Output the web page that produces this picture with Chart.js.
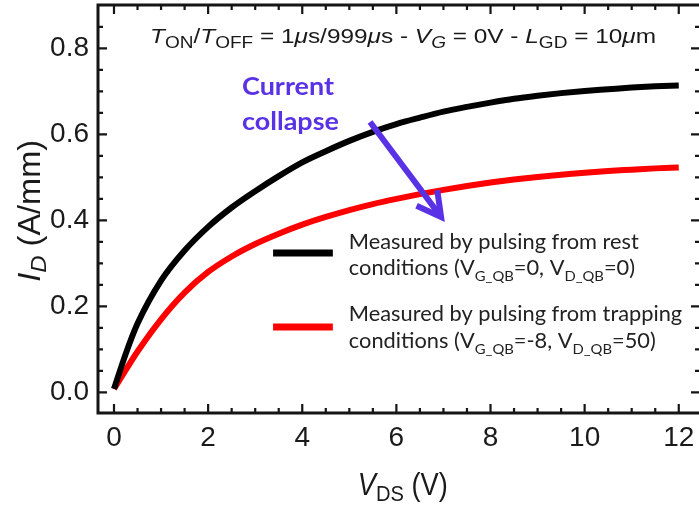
<!DOCTYPE html>
<html>
<head>
<meta charset="utf-8">
<script src="https://cdn.jsdelivr.net/npm/chart.js@4/dist/chart.umd.min.js"></script>
<style>
  html, body { margin: 0; padding: 0; background: #fff; }
  #wrap { width: 699px; height: 507px; position: relative; }
</style>
</head>
<body>
<div id="wrap"><canvas id="iv-chart" width="699" height="507"></canvas></div>
<script>
// V_DS sweep points (V)
const vds = [0, 0.25, 0.5, 1, 1.5, 2, 2.5, 3, 3.5, 4, 4.5, 5, 5.5, 6, 6.5, 7, 7.5, 8, 8.5, 9, 9.5, 10, 10.5, 11, 11.5, 12];
// I_D (A/mm) pulsed from rest conditions
const idRest = [0.008, 0.09, 0.16, 0.26, 0.33, 0.385, 0.43, 0.468, 0.503, 0.535, 0.561, 0.585, 0.606, 0.624, 0.639, 0.653, 0.664, 0.674, 0.683, 0.690, 0.696, 0.701, 0.705, 0.709, 0.712, 0.714];
// I_D (A/mm) pulsed from trapping conditions
const idTrap = [0.008, 0.052, 0.095, 0.17, 0.232, 0.28, 0.316, 0.345, 0.369, 0.39, 0.408, 0.424, 0.438, 0.45, 0.461, 0.471, 0.48, 0.488, 0.495, 0.501, 0.506, 0.511, 0.515, 0.518, 0.521, 0.523];
const xTicks = [0, 2, 4, 6, 8, 10, 12];
const yTicks = [0.0, 0.2, 0.4, 0.6, 0.8];

const PURPLE = '#5a32e6';
const INK = '#1a1a1a';
const SANS = '"Liberation Sans", Arial, sans-serif';
const CAL = 'Lato, "Open Sans", sans-serif';

// annotation anchors, in data units
const notes = {
  title: { x: 0.765, y: 0.813 },
  current: { x: 2.72, y: 0.692 },
  collapse: { x: 2.72, y: 0.610 },
  arrowFrom: { x: 5.44, y: 0.629 },
  arrowTo: { x: 6.95, y: 0.408 },
  legSample: { x1: 3.38, x2: 4.65 },
  legRest: { y: 0.324, l1: 0.334, l2: 0.273 },
  legTrap: { y: 0.152, l1: 0.166, l2: 0.103 },
  legText: { x: 4.99 },
  xTitle: { x: 5.18 },
  yTitle: { y: 0.257 }
};

// draw a run of text pieces (italic / bold / subscript), optionally squeezed to a width
function drawRich(ctx, segs, x, y, o) {
  const font = (s) => (s.i ? 'italic ' : '') + (o.bold ? 'bold ' : '') +
    (s.sub ? o.size * (o.subScale || 0.72) : o.size) + 'px ' + o.family;
  let total = 0;
  segs.forEach(s => { ctx.font = font(s); s.w = ctx.measureText(s.t).width; total += s.w; });
  const sx = o.sx || (o.fit ? o.fit / total : 1);
  ctx.save();
  ctx.translate(x, y);
  if (o.rot) ctx.rotate(o.rot);
  ctx.scale(sx, 1);
  ctx.fillStyle = o.color || INK;
  ctx.textBaseline = 'alphabetic';
  ctx.textAlign = 'left';
  let cx = 0;
  segs.forEach(s => {
    ctx.font = font(s);
    ctx.fillText(s.t, cx, s.sub ? o.size * (o.subDrop || 0.25) : 0);
    cx += s.w;
  });
  ctx.restore();
  return sx;
}

const overlay = {
  id: 'overlay',
  afterDraw(chart) {
    const { ctx, chartArea: a } = chart;
    const xs = chart.scales.x, ys = chart.scales.y;
    const px = v => xs.getPixelForValue(v), py = v => ys.getPixelForValue(v);
    ctx.save();

    // frame
    ctx.strokeStyle = '#151515';
    ctx.lineWidth = 3;
    ctx.beginPath();
    ctx.moveTo(a.right + 2, a.top);
    ctx.lineTo(a.left, a.top);
    ctx.lineTo(a.left, a.bottom);
    ctx.lineTo(a.right + 2, a.bottom);
    ctx.stroke();

    // inward ticks, major + minor
    ctx.lineWidth = 2.2;
    ctx.beginPath();
    for (let k = 0; k <= 24; k++) {
      const v = k * 0.5, X = px(v);
      if (X > a.right) break;
      const len = k % 4 === 0 ? 9 : 5;
      ctx.moveTo(X, a.bottom); ctx.lineTo(X, a.bottom - len);
      ctx.moveTo(X, a.top); ctx.lineTo(X, a.top + len);
    }
    for (let k = 0; k <= 17; k++) {
      const v = k * 0.05, Y = py(v);
      if (Y < a.top) break;
      const len = k % 4 === 0 ? 9 : 5;
      ctx.moveTo(a.left, Y); ctx.lineTo(a.left + len, Y);
      ctx.moveTo(a.right + 1, Y); ctx.lineTo(a.right + 1 - len, Y);
    }
    ctx.stroke();

    // header line
    drawRich(ctx, [
      { t: 'T', i: 1 }, { t: 'ON', sub: 1 }, { t: '/' }, { t: 'T', i: 1 }, { t: 'OFF', sub: 1 },
      { t: ' = 1' }, { t: 'μ', i: 1 }, { t: 's/999' }, { t: 'μ', i: 1 }, { t: 's - ' },
      { t: 'V', i: 1 }, { t: 'G', i: 1, sub: 1 }, { t: ' = 0V - ' }, { t: 'L', i: 1 }, { t: 'GD', sub: 1 },
      { t: ' = 10' }, { t: 'μ', i: 1 }, { t: 'm' }
    ], px(notes.title.x), py(notes.title.y), { size: 20, family: SANS, fit: 506, subScale: 0.78, subDrop: 0.28 });

    // axis titles
    drawRich(ctx, [{ t: 'V', i: 1 }, { t: 'DS', sub: 1 }, { t: ' (V)' }],
      px(notes.xTitle.x), a.bottom + 82, { size: 31, family: SANS, fit: 90, subScale: 0.74, subDrop: 0.18 });
    drawRich(ctx, [{ t: 'I', i: 1 }, { t: 'D', i: 1, sub: 1 }, { t: ' (A/mm)' }],
      a.left - 58, py(notes.yTitle.y), { size: 31, family: SANS, fit: 142, rot: -Math.PI / 2, subScale: 0.74, subDrop: 0.18 });

    // "Current collapse" note
    const sxC = drawRich(ctx, [{ t: 'Current' }], px(notes.current.x), py(notes.current.y),
      { size: 24, family: CAL, bold: true, color: PURPLE, fit: 92 });
    drawRich(ctx, [{ t: 'collapse' }], px(notes.collapse.x), py(notes.collapse.y),
      { size: 24, family: CAL, bold: true, color: PURPLE, sx: sxC });

    // arrow
    const x0 = px(notes.arrowFrom.x), y0 = py(notes.arrowFrom.y);
    const x1 = px(notes.arrowTo.x), y1 = py(notes.arrowTo.y);
    const ang = Math.atan2(y1 - y0, x1 - x0);
    ctx.strokeStyle = PURPLE;
    ctx.lineWidth = 6;
    ctx.lineCap = 'butt';
    ctx.lineJoin = 'miter';
    ctx.beginPath();
    ctx.moveTo(x0, y0); ctx.lineTo(x1 - 3 * Math.cos(ang), y1 - 3 * Math.sin(ang));
    ctx.stroke();
    ctx.beginPath();
    const hl = 27, ha = 0.5;
    ctx.moveTo(x1 - hl * Math.cos(ang - ha), y1 - hl * Math.sin(ang - ha));
    ctx.lineTo(x1, y1);
    ctx.lineTo(x1 - hl * Math.cos(ang + ha), y1 - hl * Math.sin(ang + ha));
    ctx.stroke();

    // legend
    ctx.lineWidth = 7;
    [[notes.legRest, '#000000'], [notes.legTrap, '#ff0000']].forEach(([l, c]) => {
      ctx.strokeStyle = c;
      ctx.beginPath();
      ctx.moveTo(px(notes.legSample.x1), py(l.y));
      ctx.lineTo(px(notes.legSample.x2), py(l.y));
      ctx.stroke();
    });
    const lx = px(notes.legText.x);
    const lo = { size: 21, family: CAL, color: '#222', subScale: 0.68, subDrop: 0.3 };
    lo.sx = drawRich(ctx, [{ t: 'Measured by pulsing from rest' }], lx, py(notes.legRest.l1), Object.assign({}, lo, { fit: 290 }));
    drawRich(ctx, [{ t: 'conditions (V' }, { t: 'G_QB', sub: 1 }, { t: '=0, V' }, { t: 'D_QB', sub: 1 }, { t: '=0)' }],
      lx, py(notes.legRest.l2), lo);
    drawRich(ctx, [{ t: 'Measured by pulsing from trapping' }], lx, py(notes.legTrap.l1), lo);
    drawRich(ctx, [{ t: 'conditions (V' }, { t: 'G_QB', sub: 1 }, { t: '=-8, V' }, { t: 'D_QB', sub: 1 }, { t: '=50)' }],
      lx, py(notes.legTrap.l2), lo);

    ctx.restore();
  }
};

// drop the label overhang Chart.js reserves so the plot box sits where the original does
const noOverhang = s => { s.paddingLeft = s.paddingRight = s.paddingTop = s.paddingBottom = 0; };

const ctx = document.getElementById('iv-chart').getContext('2d');
new Chart(ctx, {
  type: 'line',
  data: {
    datasets: [
      {
        label: 'Measured by pulsing from rest conditions',
        data: vds.map((v, i) => ({ x: v, y: idRest[i] })),
        borderColor: '#000000',
        borderWidth: 6,
        pointRadius: 0,
        cubicInterpolationMode: 'monotone'
      },
      {
        label: 'Measured by pulsing from trapping conditions',
        data: vds.map((v, i) => ({ x: v, y: idTrap[i] })),
        borderColor: '#ff0000',
        borderWidth: 6,
        pointRadius: 0,
        cubicInterpolationMode: 'monotone'
      }
    ]
  },
  options: {
    responsive: false,
    animation: false,
    devicePixelRatio: 1,
    layout: { padding: { top: 5, right: 0, left: 0, bottom: 0 } },
    plugins: { legend: { display: false }, tooltip: { enabled: false } },
    scales: {
      x: {
        type: 'linear',
        min: -0.34,
        max: 12.43,
        afterFit: s => { s.height = 94; noOverhang(s); },
        afterBuildTicks: s => { s.ticks = xTicks.map(v => ({ value: v })); },
        grid: { display: false, drawTicks: false },
        border: { display: false },
        ticks: { font: { family: SANS, size: 28 }, color: INK, padding: 8, maxRotation: 0, callback: v => String(v) }
      },
      y: {
        min: -0.048,
        max: 0.901,
        afterFit: s => { s.width = 98; noOverhang(s); },
        afterBuildTicks: s => { s.ticks = yTicks.map(v => ({ value: v })); },
        grid: { display: false, drawTicks: false },
        border: { display: false },
        ticks: { font: { family: SANS, size: 28 }, color: INK, padding: 9, callback: v => v.toFixed(1) }
      }
    }
  },
  plugins: [overlay]
});
</script>
</body>
</html>
